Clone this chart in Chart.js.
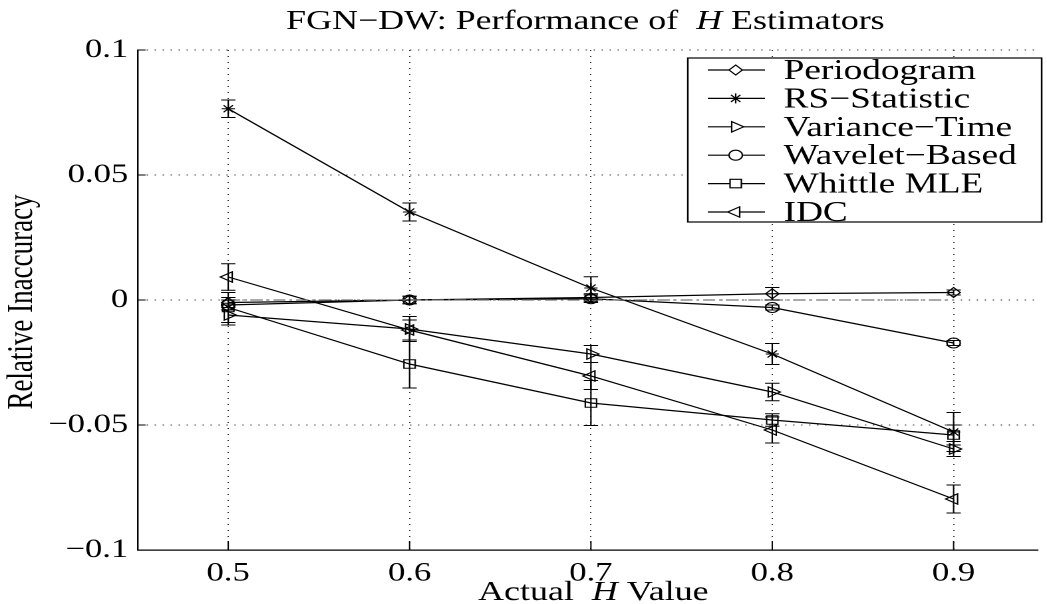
<!DOCTYPE html>
<html>
<head>
<meta charset="utf-8">
<title>FGN-DW: Performance of H Estimators</title>
<style>
  html, body { margin: 0; padding: 0; background: #fff; overflow: hidden; }
  /* the original figure is stretched sideways, so the chart is drawn narrow and widened here */
  #chart { display: block; width: 1047px !important; height: 604px !important; }
</style>
<script src="https://cdn.jsdelivr.net/npm/chart.js"></script>
</head>
<body>
<canvas id="chart" width="787" height="604"></canvas>
<script>
// x axis: actual H value
const hValues = [0.5, 0.6, 0.7, 0.8, 0.9];

// relative inaccuracy per estimator, and the half length of its error bar
const periodogram    = [-0.001, 0.0, 0.001, 0.0025, 0.003];
const periodogramErr = [0.002, 0.0015, 0.0015, 0.0025, 0.001];
const rsStatistic    = [0.0765, 0.0352, 0.0048, -0.0216, -0.0528];
const rsStatisticErr = [0.0035, 0.0036, 0.0045, 0.0042, 0.0078];
const varianceTime    = [-0.006, -0.0116, -0.0216, -0.0368, -0.0596];
const varianceTimeErr = [0.004, 0.005, 0.0034, 0.0035, 0.003];
const wavelet    = [-0.002, 0.0, 0.0005, -0.003, -0.0172];
const waveletErr = [0.002, 0.0015, 0.0015, 0.001, 0.001];
const whittle    = [-0.003, -0.0256, -0.0412, -0.048, -0.054];
const whittleErr = [0.006, 0.0096, 0.009, 0.0025, 0.004];
const idc    = [0.0092, -0.012, -0.0304, -0.052, -0.0796];
const idcErr = [0.0053, 0.004, 0.0054, 0.0052, 0.0056];

// zero reference line
const refX = [0.5, 0.9];
const refY = [0, 0];

const seriesNames = ['Periodogram', 'RS\u2212Statistic', 'Variance\u2212Time', 'Wavelet\u2212Based', 'Whittle MLE', 'IDC'];

// tick labels
const xTicks = [0.5, 0.6, 0.7, 0.8, 0.9];
const xTickLabels = ['0.5', '0.6', '0.7', '0.8', '0.9'];
const yTicks = [-0.1, -0.05, 0, 0.05, 0.1];
const yTickLabels = ['\u22120.1', '\u22120.05', '0', '0.05', '0.1'];

const FONT = '"Liberation Serif", "Times New Roman", serif';

const series = [
  { name: seriesNames[0], y: periodogram,  err: periodogramErr,  style: 'rectRot',  rot: 0,   r: 5 },
  { name: seriesNames[1], y: rsStatistic,  err: rsStatisticErr,  style: 'star',     rot: 0,   r: 5 },
  { name: seriesNames[2], y: varianceTime, err: varianceTimeErr, style: 'triangle', rot: 90,  r: 6 },
  { name: seriesNames[3], y: wavelet,      err: waveletErr,      style: 'circle',   rot: 0,   r: 5 },
  { name: seriesNames[4], y: whittle,      err: whittleErr,      style: 'rect',     rot: 0,   r: 6 },
  { name: seriesNames[5], y: idc,          err: idcErr,          style: 'triangle', rot: -90, r: 6 }
];

const datasets = series.map(s => ({
  label: s.name,
  data: hValues.map((h, i) => ({ x: h, y: s.y[i] })),
  errors: s.err,
  borderColor: '#000',
  borderWidth: 1.2,
  backgroundColor: 'rgba(0,0,0,0)',
  pointStyle: s.style,
  pointRotation: s.rot,
  pointRadius: s.r,
  pointBorderColor: '#000',
  pointBorderWidth: 1.1,
  pointBackgroundColor: 'rgba(0,0,0,0)',
  tension: 0
}));

datasets.unshift({
  label: 'zero',
  data: refX.map((v, i) => ({ x: v, y: refY[i] })),
  borderColor: '#777',
  borderWidth: 1.2,
  borderDash: [9, 3, 2, 3],
  pointRadius: 0,
  tension: 0
});

const CAP = 5.4;

const errorBars = {
  id: 'errorBars',
  afterDatasetsDraw(chart) {
    const { ctx, scales: { x, y } } = chart;
    ctx.save();
    ctx.strokeStyle = '#000';
    ctx.lineWidth = 1.1;
    chart.data.datasets.forEach(ds => {
      if (!ds.errors) return;
      ds.data.forEach((pt, i) => {
        const px = x.getPixelForValue(pt.x);
        const top = y.getPixelForValue(pt.y + ds.errors[i]);
        const bot = y.getPixelForValue(pt.y - ds.errors[i]);
        ctx.beginPath();
        ctx.moveTo(px, top); ctx.lineTo(px, bot);
        ctx.moveTo(px - CAP, top); ctx.lineTo(px + CAP, top);
        ctx.moveTo(px - CAP, bot); ctx.lineTo(px + CAP, bot);
        ctx.stroke();
      });
    });
    ctx.restore();
  }
};

function drawRich(ctx, parts, cx, y, size) {
  let total = 0;
  parts.forEach(p => {
    ctx.font = (p.italic ? 'italic ' : '') + size + 'px ' + FONT;
    p.w = ctx.measureText(p.text).width;
    total += p.w;
  });
  let x = cx - total / 2;
  ctx.textAlign = 'left';
  parts.forEach(p => {
    ctx.font = (p.italic ? 'italic ' : '') + size + 'px ' + FONT;
    ctx.fillText(p.text, x, y);
    x += p.w;
  });
}

function marker(ctx, s, x, y) {
  if (Chart.helpers && Chart.helpers.drawPoint) {
    Chart.helpers.drawPoint(ctx, { pointStyle: s.style, rotation: s.rot, radius: s.r, borderWidth: 1.1 }, x, y);
  }
}

const decorations = {
  id: 'decorations',
  afterDraw(chart) {
    const { ctx, chartArea: a, scales: { x, y } } = chart;
    ctx.save();
    ctx.fillStyle = '#000';
    ctx.strokeStyle = '#000';
    ctx.lineWidth = 1;

    // inward tick marks
    ctx.beginPath();
    xTicks.forEach(v => {
      const px = x.getPixelForValue(v);
      ctx.moveTo(px, a.bottom); ctx.lineTo(px, a.bottom - 9);
    });
    yTicks.forEach(v => {
      const py = y.getPixelForValue(v);
      ctx.moveTo(a.left, py); ctx.lineTo(a.left + 6, py);
    });
    ctx.stroke();

    // title and axis titles
    ctx.textBaseline = 'alphabetic';
    drawRich(ctx, [{ text: 'FGN\u2212DW: Performance of  ' }, { text: 'H', italic: true }, { text: ' Estimators' }], 440, 29, 27);
    drawRich(ctx, [{ text: 'Actual  ' }, { text: 'H', italic: true }, { text: ' Value' }], 446, 600, 27);
    ctx.save();
    ctx.translate(17, 302);
    ctx.rotate(-Math.PI / 2);
    ctx.textBaseline = 'middle';
    drawRich(ctx, [{ text: 'Relative Inaccuracy' }], 0, 0, 27);
    ctx.restore();

    // legend
    const lx = 517, ly = 58, lw = 266, lh = 164;
    ctx.fillStyle = '#fff';
    ctx.fillRect(lx, ly, lw, lh);
    ctx.strokeStyle = '#000';
    ctx.lineWidth = 1.2;
    ctx.strokeRect(lx, ly, lw, lh);
    ctx.font = '28px ' + FONT;
    ctx.textAlign = 'left';
    ctx.textBaseline = 'alphabetic';
    series.forEach((s, i) => {
      const ry = 70 + 28.4 * i;
      ctx.strokeStyle = '#000';
      ctx.lineWidth = 1.2;
      ctx.beginPath();
      ctx.moveTo(532, ry); ctx.lineTo(575, ry);
      ctx.stroke();
      ctx.fillStyle = '#fff';
      ctx.lineWidth = 1.1;
      marker(ctx, s, 553, ry);
      ctx.fillStyle = '#000';
      ctx.fillText(s.name, 589, ry + 9);
    });
    ctx.restore();
  }
};

new Chart(document.getElementById('chart'), {
  type: 'line',
  data: { datasets },
  options: {
    responsive: false,
    devicePixelRatio: 2,
    animation: false,
    layout: { padding: { top: 50, left: 0, right: 0, bottom: 0 } },
    plugins: { legend: { display: false }, title: { display: false }, tooltip: { enabled: false } },
    scales: {
      x: {
        type: 'linear',
        min: 0.45,
        max: 0.9463,
        afterBuildTicks: scale => { scale.ticks = xTicks.map(v => ({ value: v })); },
        afterFit: scale => { scale.height = 54; },
        ticks: {
          padding: 8,
          color: '#000',
          font: { family: FONT, size: 26 },
          maxRotation: 0,
          callback: (v, i) => xTickLabels[i]
        },
        grid: { color: '#333', lineWidth: 1, drawTicks: false },
        border: { display: true, color: '#000', width: 1.2, dash: [1, 5] }
      },
      y: {
        min: -0.1,
        max: 0.1,
        afterBuildTicks: scale => { scale.ticks = yTicks.map(v => ({ value: v })); },
        afterFit: scale => { scale.width = 103.4; },
        ticks: {
          padding: 7,
          color: '#000',
          font: { family: FONT, size: 26 },
          callback: (v, i) => yTickLabels[i]
        },
        grid: { color: '#333', lineWidth: 1, drawTicks: false },
        border: { display: true, color: '#000', width: 1.2, dash: [1, 5] }
      }
    }
  },
  plugins: [errorBars, decorations]
});
</script>
</body>
</html>
